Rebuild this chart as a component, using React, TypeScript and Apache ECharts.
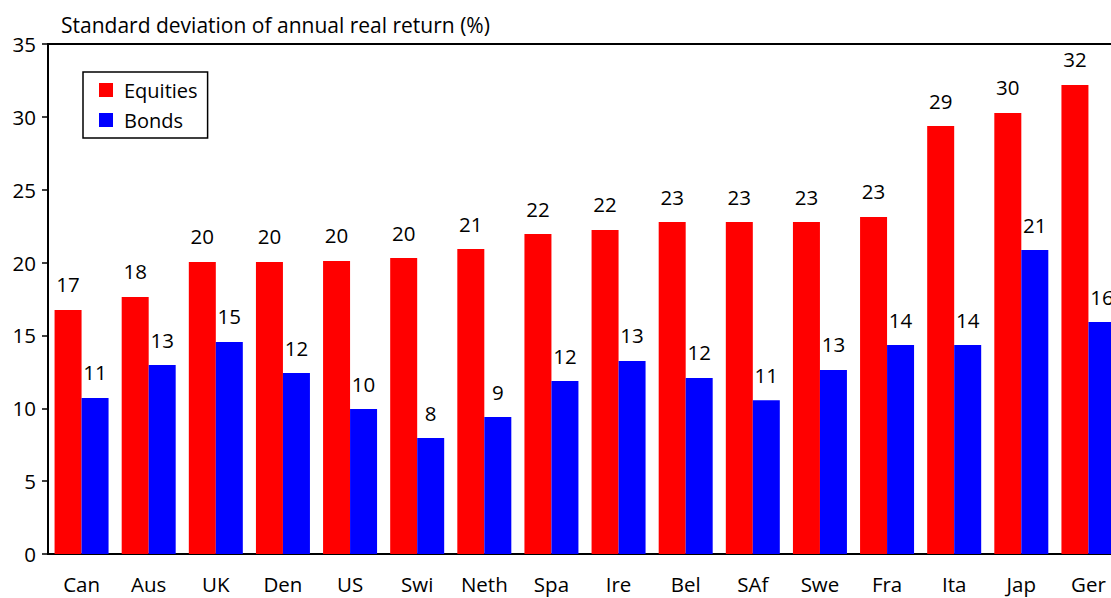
import React, { useEffect, useRef } from "react";
import * as echarts from "echarts";

const categories = ["Can", "Aus", "UK", "Den", "US", "Swi", "Neth", "Spa", "Ire", "Bel", "SAf", "Swe", "Fra", "Ita", "Jap", "Ger"];
const equities = [16.75, 17.64, 20.04, 20.04, 20.11, 20.31, 20.93, 21.96, 22.24, 22.78, 22.78, 22.78, 23.13, 29.37, 30.27, 32.19];
const bonds = [10.71, 12.97, 14.55, 12.42, 9.95, 7.96, 9.4, 11.87, 13.25, 12.08, 10.55, 12.63, 14.34, 14.34, 20.86, 15.92];
const yTicks = { min: 0, max: 35, interval: 5 };
const titleText = "Standard deviation of annual real return (%)";

const FONT = "Open Sans";
const FS = 20.5;

export default function App() {
  const ref = useRef<HTMLDivElement>(null);
  useEffect(() => {
    if (!ref.current) return;
    const chart = echarts.init(ref.current, null, { renderer: "svg" });
    const label = {
      show: true,
      position: "top",
      distance: 15,
      color: "#000",
      fontSize: FS,
      fontFamily: FONT,
      formatter: (p: any) => String(Math.round(p.value)),
    };
    chart.setOption({
      animation: false,
      backgroundColor: "#fff",
      title: {
        text: titleText,
        left: 56,
        top: 9,
        textStyle: { color: "#000", fontSize: 21, fontWeight: "normal", fontFamily: FONT },
      },
      legend: {
        orient: "vertical",
        left: 83,
        top: 72,
        padding: [8, 10, 8, 16],
        itemWidth: 14,
        itemHeight: 14,
        itemGap: 10,
        borderColor: "#000",
        borderWidth: 1.5,
        borderRadius: 0,
        backgroundColor: "#fff",
        icon: "rect",
        textStyle: { color: "#000", fontSize: 20, fontFamily: FONT, lineHeight: 20, padding: [0, 0, 0, 6] },
        data: ["Equities", "Bonds"],
      },
      grid: {
        left: 48,
        top: 44,
        bottom: 44,
        right: -11,
        outerBoundsMode: "none",
        containLabel: false,
        show: true,
        borderColor: "#000",
        borderWidth: 2,
        backgroundColor: "transparent",
      },
      xAxis: {
        type: "category",
        data: categories,
        axisLine: { lineStyle: { color: "#000", width: 2 } },
        axisTick: { show: false },
        axisLabel: { color: "#000", fontSize: FS, fontFamily: FONT, margin: 19, interval: 0 },
      },
      yAxis: {
        type: "value",
        min: yTicks.min,
        max: yTicks.max,
        interval: yTicks.interval,
        splitLine: { show: false },
        axisLine: { show: true, lineStyle: { color: "#000", width: 2 } },
        axisTick: { show: true, length: 6, lineStyle: { color: "#000", width: 1.5 } },
        axisLabel: { color: "#000", fontSize: FS, fontFamily: FONT, margin: 12 },
      },
      series: [
        {
          name: "Equities",
          type: "bar",
          data: equities,
          barWidth: 27,
          barGap: "0%",
          itemStyle: { color: "#ff0000" },
          label,
        },
        {
          name: "Bonds",
          type: "bar",
          data: bonds,
          barWidth: 27,
          barGap: "0%",
          itemStyle: { color: "#0000ff" },
          label,
        },
      ],
    });
    return () => chart.dispose();
  }, []);
  return (
    <div
      ref={ref}
      style={{ position: "absolute", left: 0, top: 0, width: 1111, height: 598, overflow: "hidden" }}
    />
  );
}
